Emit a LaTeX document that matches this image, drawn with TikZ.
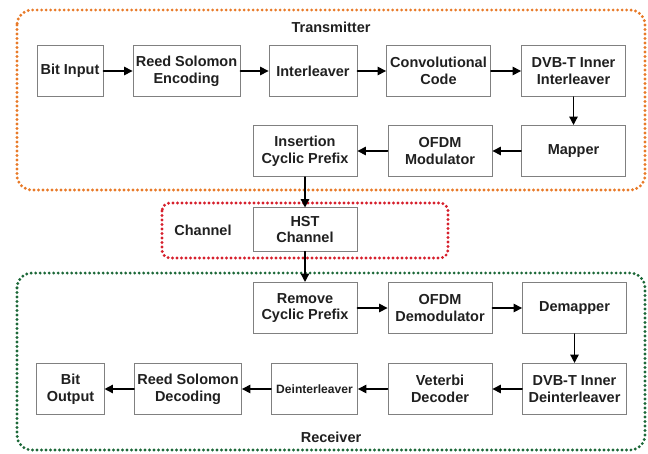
\documentclass[tikz,border=0pt]{standalone}
\usepackage{fontspec}
\setmainfont{Liberation Sans}
\usepackage{xcolor}
\usetikzlibrary{arrows.meta,positioning}

\definecolor{txOrange}{RGB}{232,122,40}
\definecolor{chRed}{RGB}{214,32,44}
\definecolor{rxGreen}{RGB}{28,104,56}
\definecolor{boxGray}{RGB}{128,128,128}
\definecolor{inkGray}{RGB}{32,32,32}

\begin{document}
\begin{tikzpicture}[
  x=0.025cm, y=-0.025cm,
  font=\fontsize{10.3}{12}\selectfont\bfseries,
  text=inkGray,
  line cap=round,
  flow/.style={-{Triangle[length=2.1mm,width=2.1mm]}, line width=1pt, draw=black},
  blk/.style={rectangle, minimum width=2.6cm, minimum height=1.28cm,
    inner sep=2pt, align=center, draw=boxGray, line width=0.6pt, fill=white},
  grp/.style={rounded corners=0.375cm, line width=2.3pt,
    dash pattern=on 0pt off 3.2pt},
]
  \useasboundingbox (0,0) rectangle (648,453);
  % Group frames
  \draw[grp, draw=txOrange] (17,10) rectangle (645,190);
  \draw[grp, draw=chRed, rounded corners=0.2cm] (162,203) rectangle (448,258);
  \draw[grp, draw=rxGreen] (17,273) rectangle (645,450);
  \node (txlabel) at (331,27) {Transmitter};
  \node (chlabel) at (203,230) {Channel};
  \node (rxlabel) at (331,437) {Receiver};
  % Transmitter
  \node[blk, minimum width=1.65cm] (bitin) at (70,71) {Bit Input};
  \node[blk, minimum width=2.67cm] (rsenc) at (186.5,71) {Reed Solomon\\Encoding};
  \node[blk, minimum width=2.2cm] (intlv) at (313,71) {Interleaver};
  \node[blk] (conv) at (438.5,71) {Convolutional\\Code};
  \node[blk] (dvbtx) at (573.5,71) {DVB-T Inner\\Interleaver};
  \node[blk] (mapper) at (573.5,151) {Mapper};
  \node[blk] (ofdmmod) at (440,151) {OFDM\\Modulator};
  \node[blk] (cpins) at (305,151) {Insertion\\Cyclic Prefix};
  % Channel
  \node[blk, minimum height=1.08cm] (hst) at (305,229.5) {HST\\Channel};
  % Receiver
  \node[blk] (cprem) at (305,308) {Remove\\Cyclic Prefix};
  \node[blk] (ofdmdem) at (440,308) {OFDM\\Demodulator};
  \node[blk] (demap) at (574.5,308) {Demapper};
  \node[blk] (dvbrx) at (574.5,389) {DVB-T Inner\\Deinterleaver};
  \node[blk] (viterbi) at (440,389) {Veterbi\\Decoder};
  \node[blk, minimum width=2.15cm, font=\fontsize{8.6}{10}\selectfont\bfseries] (deintlv) at (314.5,389) {Deinterleaver};
  \node[blk, minimum width=2.65cm] (rsdec) at (188,389) {Reed Solomon\\Decoding};
  \node[blk, minimum width=1.68cm] (bitout) at (70.5,389) {Bit\\Output};
  % Arrows
  \draw[flow] (bitin) -- (rsenc);
  \draw[flow] (rsenc) -- (intlv);
  \draw[flow] (intlv) -- (conv);
  \draw[flow] (conv) -- (dvbtx);
  \draw[flow] (dvbtx) -- (mapper);
  \draw[flow] (mapper) -- (ofdmmod);
  \draw[flow] (ofdmmod) -- (cpins);
  \draw[flow] (cpins) -- (hst);
  \draw[flow] (hst) -- (cprem);
  \draw[flow] (cprem) -- (ofdmdem);
  \draw[flow] (ofdmdem) -- (demap);
  \draw[flow] (demap) -- (dvbrx);
  \draw[flow] (dvbrx) -- (viterbi);
  \draw[flow] (viterbi) -- (deintlv);
  \draw[flow] (deintlv) -- (rsdec);
  \draw[flow] (rsdec) -- (bitout);
\end{tikzpicture}
\end{document}
